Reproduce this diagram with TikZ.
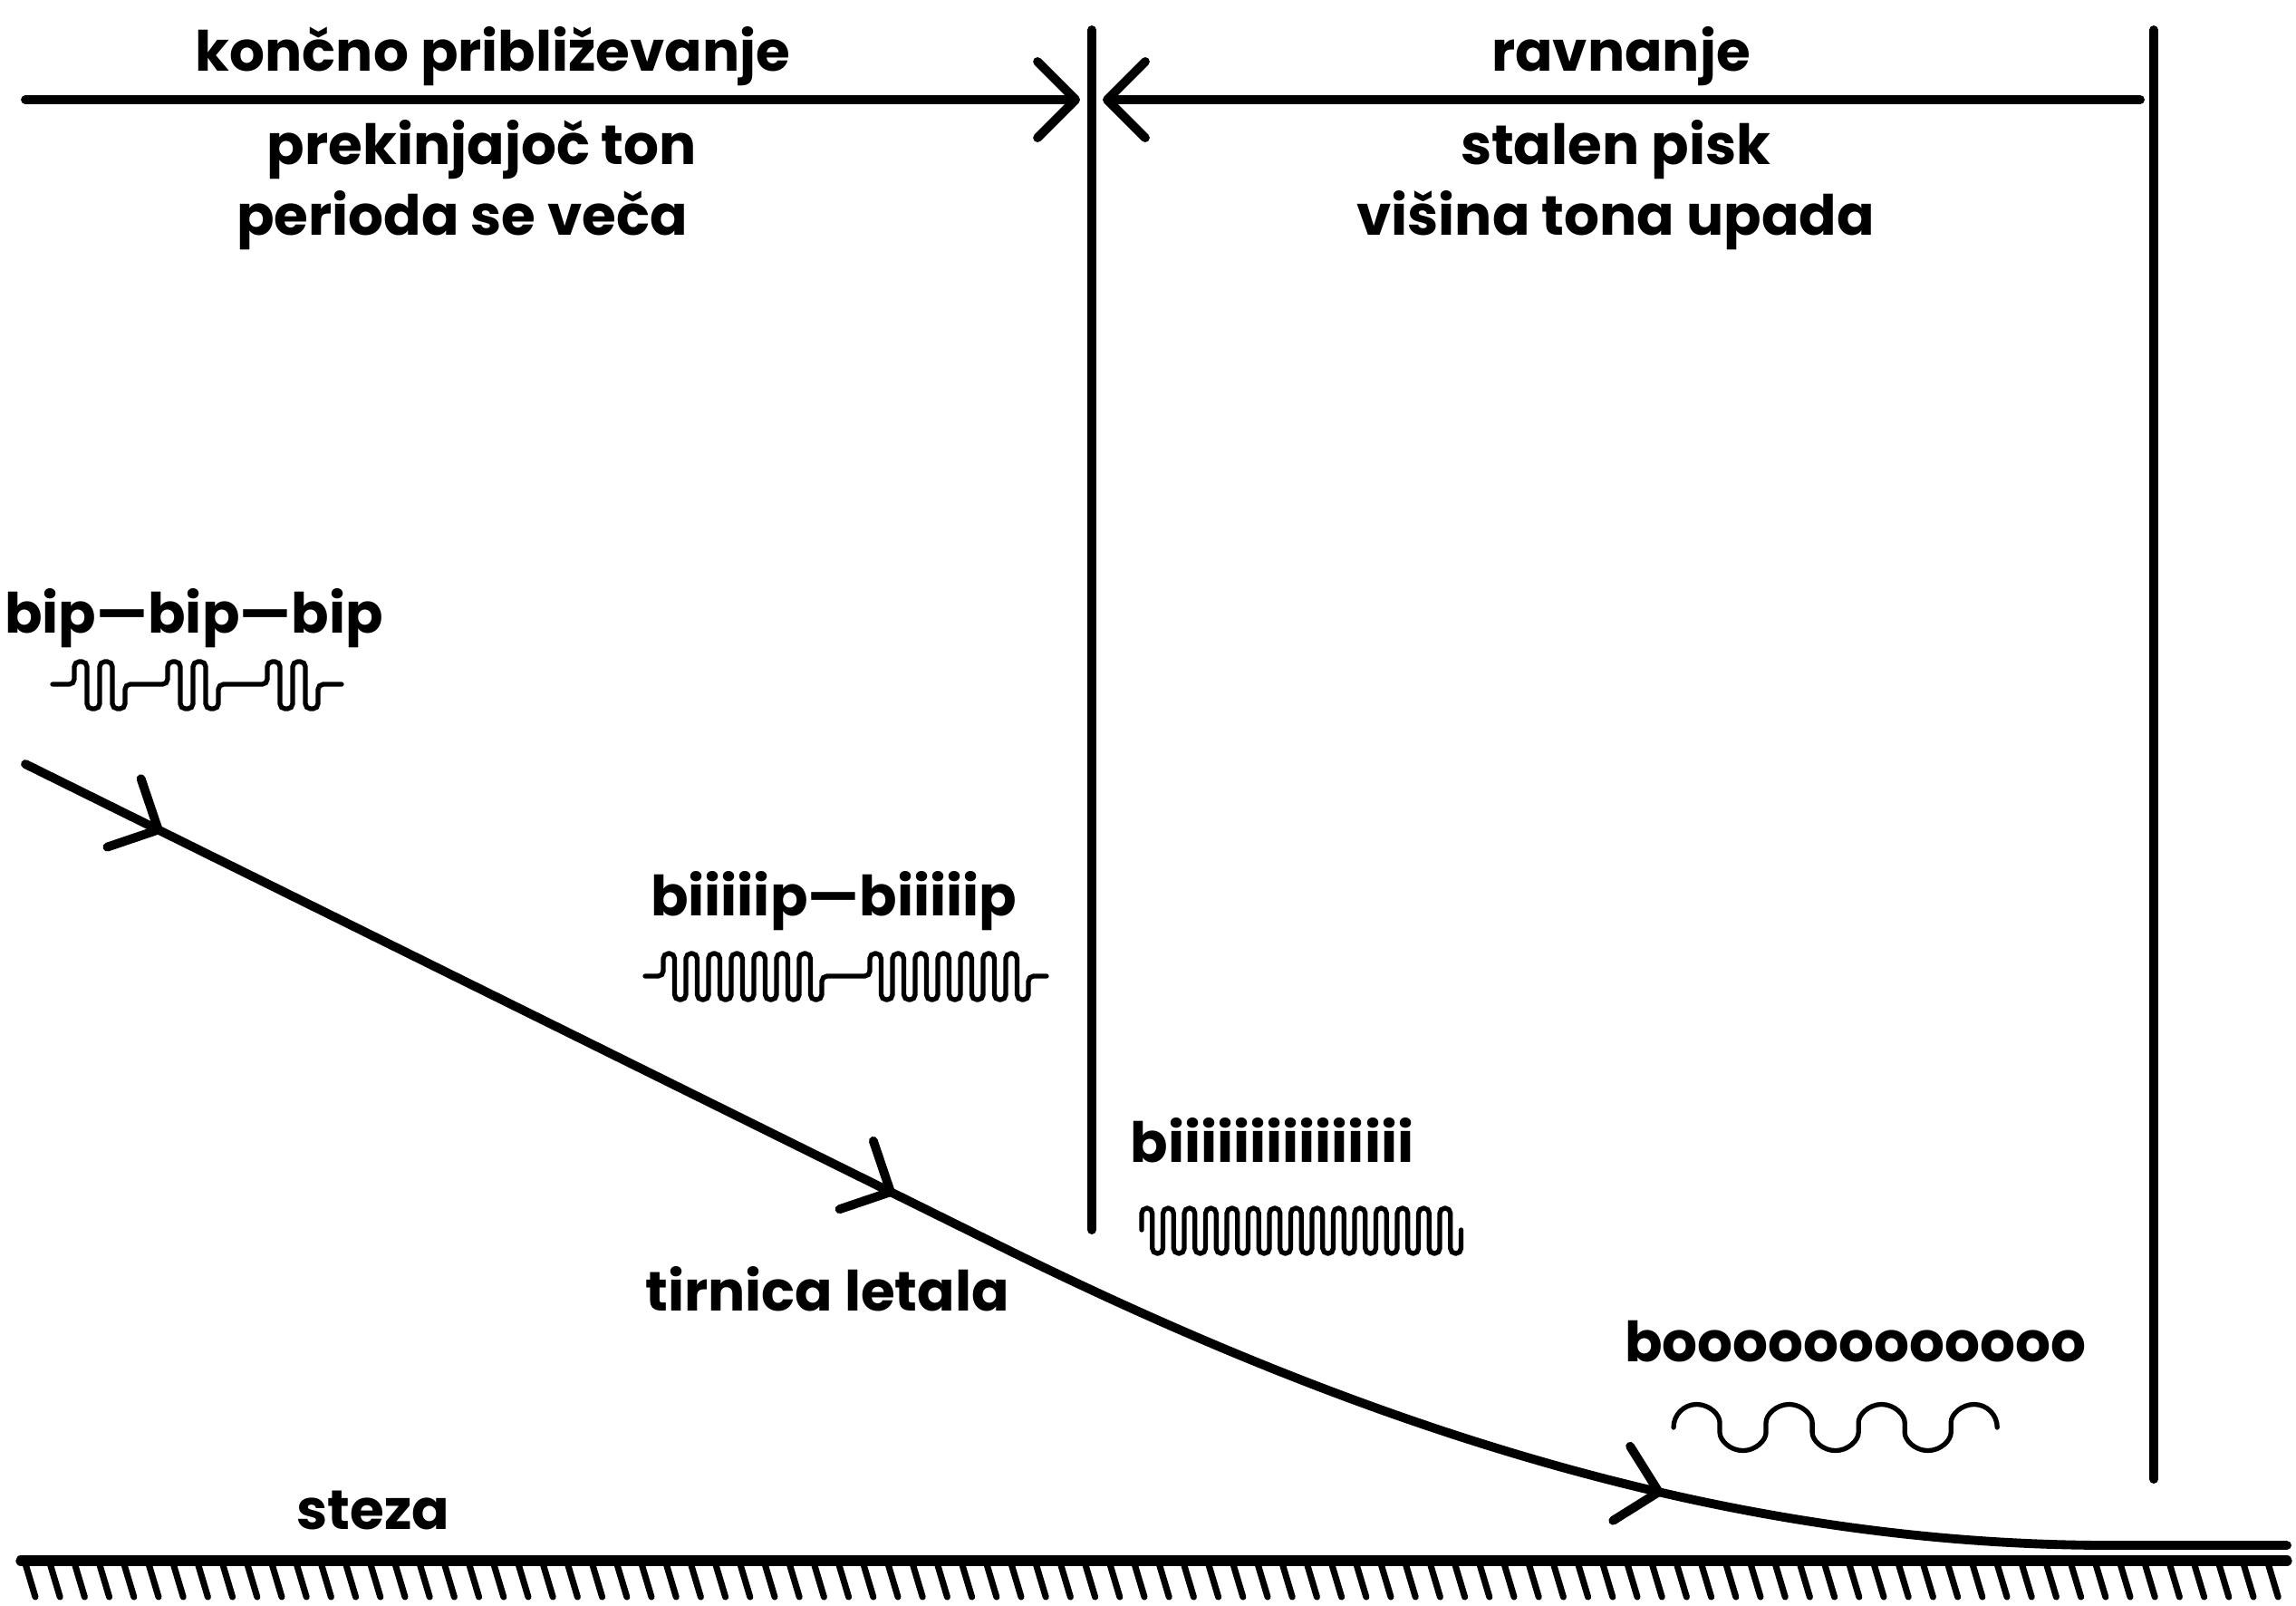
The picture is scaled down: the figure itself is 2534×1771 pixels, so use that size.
\documentclass[tikz,border=0pt]{standalone}
\usepackage{fontspec}
\setmainfont{Poppins}
\usepackage{tikz}
\usetikzlibrary{arrows.meta, decorations.markings}

\tikzset{
  barb/.tip={Straight Barb[length=4.2mm, width=8.4mm, round]}
}

\begin{document}
\begin{tikzpicture}[
  x=0.01cm, y=-0.01cm,
  font=\fontsize{17.4}{21}\selectfont\bfseries,
  lbl/.style={anchor=base, inner sep=0pt, align=center},
  bar/.style={line width=2.8pt, line cap=round},
  dimline/.style={bar, -barb},
  flight/.style={bar, postaction={decorate}, decoration={markings,
      mark=at position 0.063 with {\arrow{barb}},
      mark=at position 0.400 with {\arrow{barb}},
      mark=at position 0.741 with {\arrow{barb}}}},
  wave/.style={line width=1.5pt, rounded corners=1.6pt, line cap=round},
  hatch/.style={line width=2pt, line cap=round}
]
  \useasboundingbox (0,0) rectangle (2534,1771);

  \coordinate (appr-start) at (28,110);
  \coordinate (appr-tip) at (1192,110);
  \coordinate (flare-tip-l) at (1217,110);
  \coordinate (flare-tip-r) at (2362,110);
  \coordinate (gate-top) at (1205,33);
  \coordinate (gate-bot) at (1205,1357);
  \coordinate (stop-top) at (2377,33);
  \coordinate (stop-bot) at (2377,1632);
  \coordinate (rwy-l) at (23,1722);
  \coordinate (rwy-r) at (2524,1722);
  \coordinate (fp-start) at (28,843);
  \coordinate (fp-bend) at (1100,1373);
  \coordinate (fp-touch) at (2330,1705);
  \coordinate (fp-end) at (2524,1705);

  \node [lbl] (appr) at (544,78) {končno približevanje};
  \node [lbl] (flare) at (1789,78) {ravnanje};
  \node [lbl] (appr-a) at (532,181) {prekinjajoč ton};
  \node [lbl] (appr-b) at (510,259) {perioda se veča};
  \node [lbl] (flare-a) at (1783,181) {stalen pisk};
  \node [lbl] (flare-b) at (1783,259) {višina tona upada};
  \node [lbl] (outer) at (214,698) {bip—bip—bip};
  \node [lbl] (middle) at (920,1010) {biiiiip—biiiiip};
  \node [lbl] (inner) at (1404,1282) {biiiiiiiiiiiiiii};
  \node [lbl] (path) at (913,1446) {tirnica letala};
  \node [lbl] (boom) at (2048,1502) {boooooooooooo};
  \node [lbl] (rwy) at (412,1687) {steza};

  \draw [dimline] (appr-start) -- (appr-tip);
  \draw [dimline, barb-] (flare-tip-l) -- (flare-tip-r);
  \draw [bar] (gate-top) -- (gate-bot);
  \draw [bar] (stop-top) -- (stop-bot);

  \draw [flight] (fp-start) -- (fp-bend)
    .. controls (1500,1571) and (1900,1705) .. (fp-touch) -- (fp-end);

  \draw [bar, line width=3.2pt] (rwy-l) -- (rwy-r);
  \foreach \i in {0,...,91}
    \draw [hatch] ({27+27.2*\i},1722) -- ++(12,40);

  % bip-bip-bip
  \draw [wave] (58,755)
    foreach \s in {82,185,295} {
      -- (\s,755)
      foreach \k in {0,1} {
        -- ({\s+28*\k},730) -- ({\s+28*\k+14},730)
        -- ({\s+28*\k+14},782) -- ({\s+28*\k+28},782)
      }
      -- ({\s+56},755)
    } -- (377,755);

  % biiiiip-biiiiip
  \draw [wave] (712,1077)
    foreach \s in {732,960} {
      -- (\s,1077)
      foreach \k in {0,...,6} {
        -- ({\s+25*\k},1052) -- ({\s+25*\k+12.5},1052)
        -- ({\s+25*\k+12.5},1103) -- ({\s+25*\k+25},1103)
      }
      -- ({\s+175},1077)
    } -- (1155,1077);

  % biiiiiiii
  \draw [wave] (1260,1357)
    foreach \k in {0,...,14} {
      -- ({1260+23.5*\k},1333) -- ({1260+23.5*\k+11.75},1333)
      -- ({1260+23.5*\k+11.75},1383) -- ({1260+23.5*\k+23.5},1383)
    } -- (1612.5,1357);

  % booooo
  \draw [wave] (1847,1575)
    foreach \k in {1,2,3} {
      arc [start angle=180, end angle=0, radius=2.55mm]
      arc [start angle=180, end angle=360, radius=2.55mm]
    } arc [start angle=180, end angle=0, radius=2.55mm];
\end{tikzpicture}
\end{document}
